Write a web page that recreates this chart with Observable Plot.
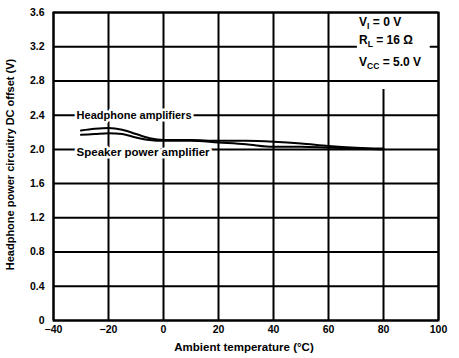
<!DOCTYPE html>
<html>
<head>
<meta charset="utf-8">
<script src="https://cdn.jsdelivr.net/npm/d3@7"></script>
<script src="https://cdn.jsdelivr.net/npm/@observablehq/plot@0.6"></script>
<style>
  html, body { margin: 0; padding: 0; background: white; }
</style>
</head>
<body>
<div id="chart"></div>
<script>
const temps = [-30, -25, -20, -15, -10, -5, 0, 10, 20, 30, 40, 50, 60, 70, 80];
const headphone = [2.22, 2.24, 2.25, 2.23, 2.18, 2.13, 2.11, 2.11, 2.10, 2.10, 2.09, 2.07, 2.04, 2.02, 2.01];
const speaker = [2.17, 2.18, 2.19, 2.18, 2.14, 2.11, 2.10, 2.10, 2.08, 2.06, 2.03, 2.03, 2.02, 2.01, 2.00];
const xTicks = [-40, -20, 0, 20, 40, 60, 80, 100];
const yTicks = [0, 0.4, 0.8, 1.2, 1.6, 2.0, 2.4, 2.8, 3.2, 3.6];
const seriesLabels = ["Headphone amplifiers", "Speaker power amplifier"];
const conditions = [["V", "I", " = 0 V"], ["R", "L", " = 16 Ω"], ["V", "CC", " = 5.0 V"]];
const xTitle = "Ambient temperature (°C)";
const yTitle = "Headphone power circuitry DC offset (V)";

const hpData = temps.map((t, i) => ({t, v: headphone[i]}));
const spData = temps.map((t, i) => ({t, v: speaker[i]}));
const fmtY = d => d === 0 ? "0" : d3.format(".1f")(d);

const chart = Plot.plot({
  width: 459,
  height: 358,
  marginLeft: 53,
  marginRight: 21,
  marginTop: 12,
  marginBottom: 38,
  style: {fontFamily: "'Liberation Sans', Arial, sans-serif", fontSize: "10.5px", fontWeight: "bold", background: "white", color: "black"},
  x: {domain: [-40, 100]},
  y: {domain: [0, 3.6]},
  marks: [
    Plot.ruleY(yTicks, {stroke: "black", strokeWidth: 2}),
    Plot.ruleX(xTicks, {y1: 0, y2: d => d === 80 ? 2.7 : 3.6, stroke: "black", strokeWidth: 2}),
    Plot.rect([0], {x1: 70.5, x2: 97, y1: 2.84, y2: 3.57, fill: "white"}),
    Plot.frame({stroke: "black", strokeWidth: 2}),
    Plot.axisX(xTicks, {tickSize: 0, tickPadding: 5, label: null, fontSize: 10.5}),
    Plot.axisY(yTicks, {tickSize: 0, tickPadding: 9, label: null, tickFormat: fmtY, fontSize: 10.5}),
    Plot.line(hpData, {x: "t", y: "v", stroke: "black", strokeWidth: 2, curve: "monotone-x"}),
    Plot.line(spData, {x: "t", y: "v", stroke: "black", strokeWidth: 2, curve: "monotone-x"}),
    Plot.text([seriesLabels[0]], {x: -31.6, y: 2.4, text: d => d, textAnchor: "start", fontSize: 11, stroke: "white", strokeWidth: 5, fill: "black"}),
    Plot.text([seriesLabels[1]], {x: -31.6, y: 1.965, text: d => d, textAnchor: "start", fontSize: 11.5, stroke: "white", strokeWidth: 5, fill: "black"}),
    Plot.text([xTitle], {frameAnchor: "bottom", dy: 30, dx: -2, text: d => d, fontSize: 11.5}),
    Plot.text([yTitle], {frameAnchor: "left", textAnchor: "middle", dx: -43, dy: -2, rotate: -90, text: d => d, fontSize: 11})
  ]
});

// condition annotations with subscripts
const sx = chart.scale("x"), sy = chart.scale("y");
const svg = d3.select(chart);
const condY = [3.48, 3.27, 3.02];
const g = svg.append("g").attr("font-size", 12).attr("font-weight", "bold").attr("fill", "black").attr("text-anchor", "start");
conditions.forEach((c, i) => {
  const t = g.append("text")
    .attr("x", sx.apply(71.3))
    .attr("y", sy.apply(condY[i]))
    .attr("dy", "0.35em");
  t.append("tspan").text(c[0]);
  t.append("tspan").attr("font-size", 8.5).attr("dy", 3).text(c[1]);
  t.append("tspan").attr("dy", -3).text(c[2]);
});

document.getElementById("chart").appendChild(chart);
</script>
</body>
</html>
